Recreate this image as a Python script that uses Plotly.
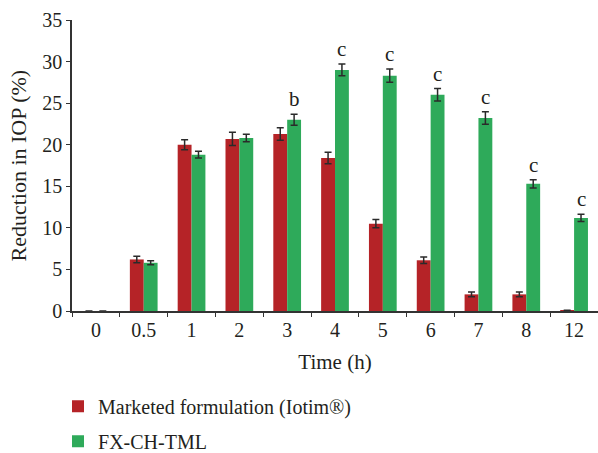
import plotly.graph_objects as go

categories = ["0", "0.5", "1", "2", "3", "4", "5", "6", "7", "8", "12"]
marketed = [0, 6.2, 20.0, 20.7, 21.3, 18.4, 10.5, 6.1, 2.0, 2.0, 0.1]
marketed_err = [0, 0.4, 0.6, 0.8, 0.75, 0.7, 0.5, 0.4, 0.3, 0.3, 0]
fx = [0, 5.8, 18.8, 20.8, 23.0, 29.0, 28.3, 26.0, 23.2, 15.3, 11.2]
fx_err = [0, 0.25, 0.4, 0.45, 0.65, 0.7, 0.8, 0.75, 0.75, 0.5, 0.45]
sig_labels = ["", "", "", "", "b", "c", "c", "c", "c", "c", "c"]

RED = "#B52327"
GREEN = "#2EAA5A"
TXT = "#231F20"
FONT = "Liberation Serif"
BARGAP = 0.42
ML, MR = 72, 0
PW = 598 - ML - MR

fig = go.Figure()
fig.add_trace(go.Bar(
    x=categories, y=marketed, name="Marketed formulation (Iotim®)",
    marker=dict(color=RED, line=dict(width=0)), legendgroup="a",
    error_y=dict(type="data", array=marketed_err, visible=True,
                 color="#2a2a2a", thickness=1.5, width=3.5),
))
fig.add_trace(go.Bar(
    x=categories, y=fx, name="FX-CH-TML",
    marker=dict(color=GREEN, line=dict(width=0)), legendgroup="b",
    error_y=dict(type="data", array=fx_err, visible=True,
                 color="#2a2a2a", thickness=1.5, width=3.5),
))

offset = (1 - BARGAP) / 4
for i, lab in enumerate(sig_labels):
    if lab:
        fig.add_annotation(x=i + offset, y=fx[i] + fx_err[i], xref="x", yref="y",
                           text=lab, showarrow=False, yanchor="bottom", yshift=1,
                           font=dict(family=FONT, size=21, color=TXT))

# y-axis title
fig.add_annotation(x=-(ML - 18) / PW, y=0.5, xref="paper", yref="paper",
                   text="Reduction in IOP (%)", textangle=-90, showarrow=False,
                   xanchor="center", yanchor="middle",
                   font=dict(family=FONT, size=22, color=TXT))

fig.update_layout(
    width=598, height=453,
    margin=dict(l=ML, r=MR, t=20, b=142, autoexpand=False),
    paper_bgcolor="white", plot_bgcolor="white",
    barmode="group", bargap=BARGAP, bargroupgap=0,
    font=dict(family=FONT, size=20, color=TXT),
    showlegend=True,
    legend=dict(orientation="v", xref="container", yref="container",
                x=0.097, xanchor="left", y=0.146, yanchor="top",
                font=dict(family=FONT, size=20, color=TXT),
                tracegroupgap=6, itemwidth=30, bgcolor="rgba(0,0,0,0)"),
    xaxis=dict(
        type="category", tickson="boundaries", ticks="outside", ticklen=4,
        tickcolor="#333", showline=True, linecolor="#333", linewidth=1.5,
        showgrid=False, tickfont=dict(size=20),
        title=dict(text="Time (h)", font=dict(size=21), standoff=15),
        range=[-0.5, 10.5],
    ),
    yaxis=dict(
        range=[0, 35], dtick=5, ticks="outside", ticklen=4, tickcolor="#333",
        showline=True, linecolor="#333", linewidth=1.5, showgrid=False,
        zeroline=False, tickfont=dict(size=20),
    ),
)

fig.write_html("out.html")
